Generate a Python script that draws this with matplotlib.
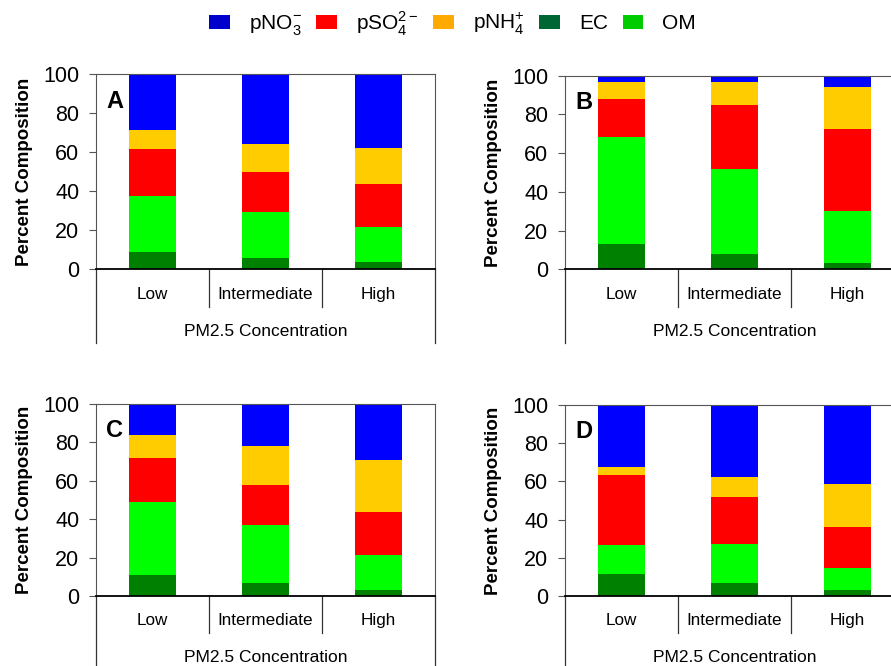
import matplotlib.pyplot as plt
import matplotlib.transforms as mtransforms
from matplotlib.patches import Patch

categories = ['Low', 'Intermediate', 'High']
species = ['EC', 'OM', 'pSO4', 'pNH4', 'pNO3']

# percent composition per panel, bottom to top
panel_A = {'EC': [8.9, 5.8, 3.8], 'OM': [28.7, 23.6, 17.9], 'pSO4': [24.1, 20.5, 22.1],
           'pNH4': [9.8, 14.4, 18.4], 'pNO3': [28.5, 35.7, 37.8]}
panel_B = {'EC': [13.1, 7.9, 3.3], 'OM': [55.2, 43.9, 26.8], 'pSO4': [19.7, 33.1, 42.4],
           'pNH4': [8.9, 11.8, 21.6], 'pNO3': [3.1, 3.3, 5.9]}
panel_C = {'EC': [10.9, 6.8, 3.1], 'OM': [38.1, 30.2, 18.3], 'pSO4': [22.9, 20.8, 22.4],
           'pNH4': [12.0, 20.3, 27.0], 'pNO3': [16.1, 21.9, 29.2]}
panel_D = {'EC': [11.5, 6.8, 3.1], 'OM': [15.2, 20.4, 11.6], 'pSO4': [36.7, 24.6, 21.4],
           'pNH4': [4.1, 10.5, 22.5], 'pNO3': [32.5, 38.2, 41.4]}

bar_colors = {'EC': '#008000', 'OM': '#00FF00', 'pSO4': '#FF0000',
              'pNH4': '#FFCC00', 'pNO3': '#0000FF'}
legend_colors = {'pNO3': '#0000CC', 'pSO4': '#FF0000', 'pNH4': '#FFAA00',
                 'EC': '#006633', 'OM': '#00CC00'}
legend_labels = {'pNO3': r'pNO$_3^{-}$', 'pSO4': r'pSO$_4^{2-}$',
                 'pNH4': r'pNH$_4^{+}$', 'EC': 'EC', 'OM': 'OM'}

plt.rcParams['font.family'] = ['Liberation Sans', 'DejaVu Sans']
plt.rcParams['mathtext.fontset'] = 'custom'
plt.rcParams['mathtext.rm'] = 'Liberation Sans'

fig = plt.figure(figsize=(8.91, 6.66), dpi=100)

positions = {
    'A': [0.1077, 0.5961, 0.3805, 0.2928],
    'B': [0.6341, 0.5956, 0.3805, 0.2908],
    'C': [0.1077, 0.1051, 0.3805, 0.2883],
    'D': [0.6341, 0.1051, 0.3805, 0.2868],
}
panels = {'A': panel_A, 'B': panel_B, 'C': panel_C, 'D': panel_D}


def draw_panel(ax, data, letter):
    x = list(range(len(categories)))
    bottom = [0.0] * len(categories)
    for sp in species:
        ax.bar(x, data[sp], width=0.41, bottom=bottom, color=bar_colors[sp], linewidth=0)
        bottom = [b + v for b, v in zip(bottom, data[sp])]
    ax.set_xlim(-0.5, len(categories) - 0.5)
    ax.set_ylim(0, 100)
    ax.set_yticks([0, 20, 40, 60, 80, 100])
    ax.tick_params(axis='y', labelsize=15.5, length=5, width=0.8, color='#555555',
                   direction='out', pad=7)
    ax.set_xticks([])
    for side in ['top', 'right', 'left']:
        ax.spines[side].set_color('#555555')
        ax.spines[side].set_linewidth(0.8)
    ax.spines['bottom'].set_linewidth(1.3)
    ax.set_ylabel('Percent Composition', fontsize=13.5, fontweight='bold')
    ax.yaxis.set_label_coords(-0.185, 0.5)
    ax.text(0.03, 0.86, letter, transform=ax.transAxes, fontsize=17, fontweight='bold',
            va='center', ha='left')

    trans = mtransforms.blended_transform_factory(ax.transData, ax.transAxes)
    for i, cat in enumerate(categories):
        ax.text(i, -0.13, cat, transform=trans, ha='center', va='center', fontsize=12.3)
    for xs in [0.5, 1.5]:
        ax.plot([xs, xs], [0, -0.195], transform=trans, color='#333333', lw=0.9, clip_on=False)
    for xs in [-0.5, len(categories) - 0.5]:
        ax.plot([xs, xs], [0, -0.38], transform=trans, color='#333333', lw=0.9, clip_on=False)
    ax.text(1, -0.32, 'PM2.5 Concentration', transform=trans, ha='center', va='center',
            fontsize=12.5)


for letter in ['A', 'B', 'C', 'D']:
    ax = fig.add_axes(positions[letter])
    draw_panel(ax, panels[letter], letter)

order = ['pNO3', 'pSO4', 'pNH4', 'EC', 'OM']
handles = [Patch(facecolor=legend_colors[k], edgecolor='none') for k in order]
fig.legend(handles, [legend_labels[k] for k in order], loc='center', ncol=5,
           bbox_to_anchor=(0.508, 0.965), frameon=False, fontsize=15,
           handlelength=1.0, handleheight=0.7, columnspacing=0.7, handletextpad=0.9)

fig.savefig('out.png', dpi=100)
